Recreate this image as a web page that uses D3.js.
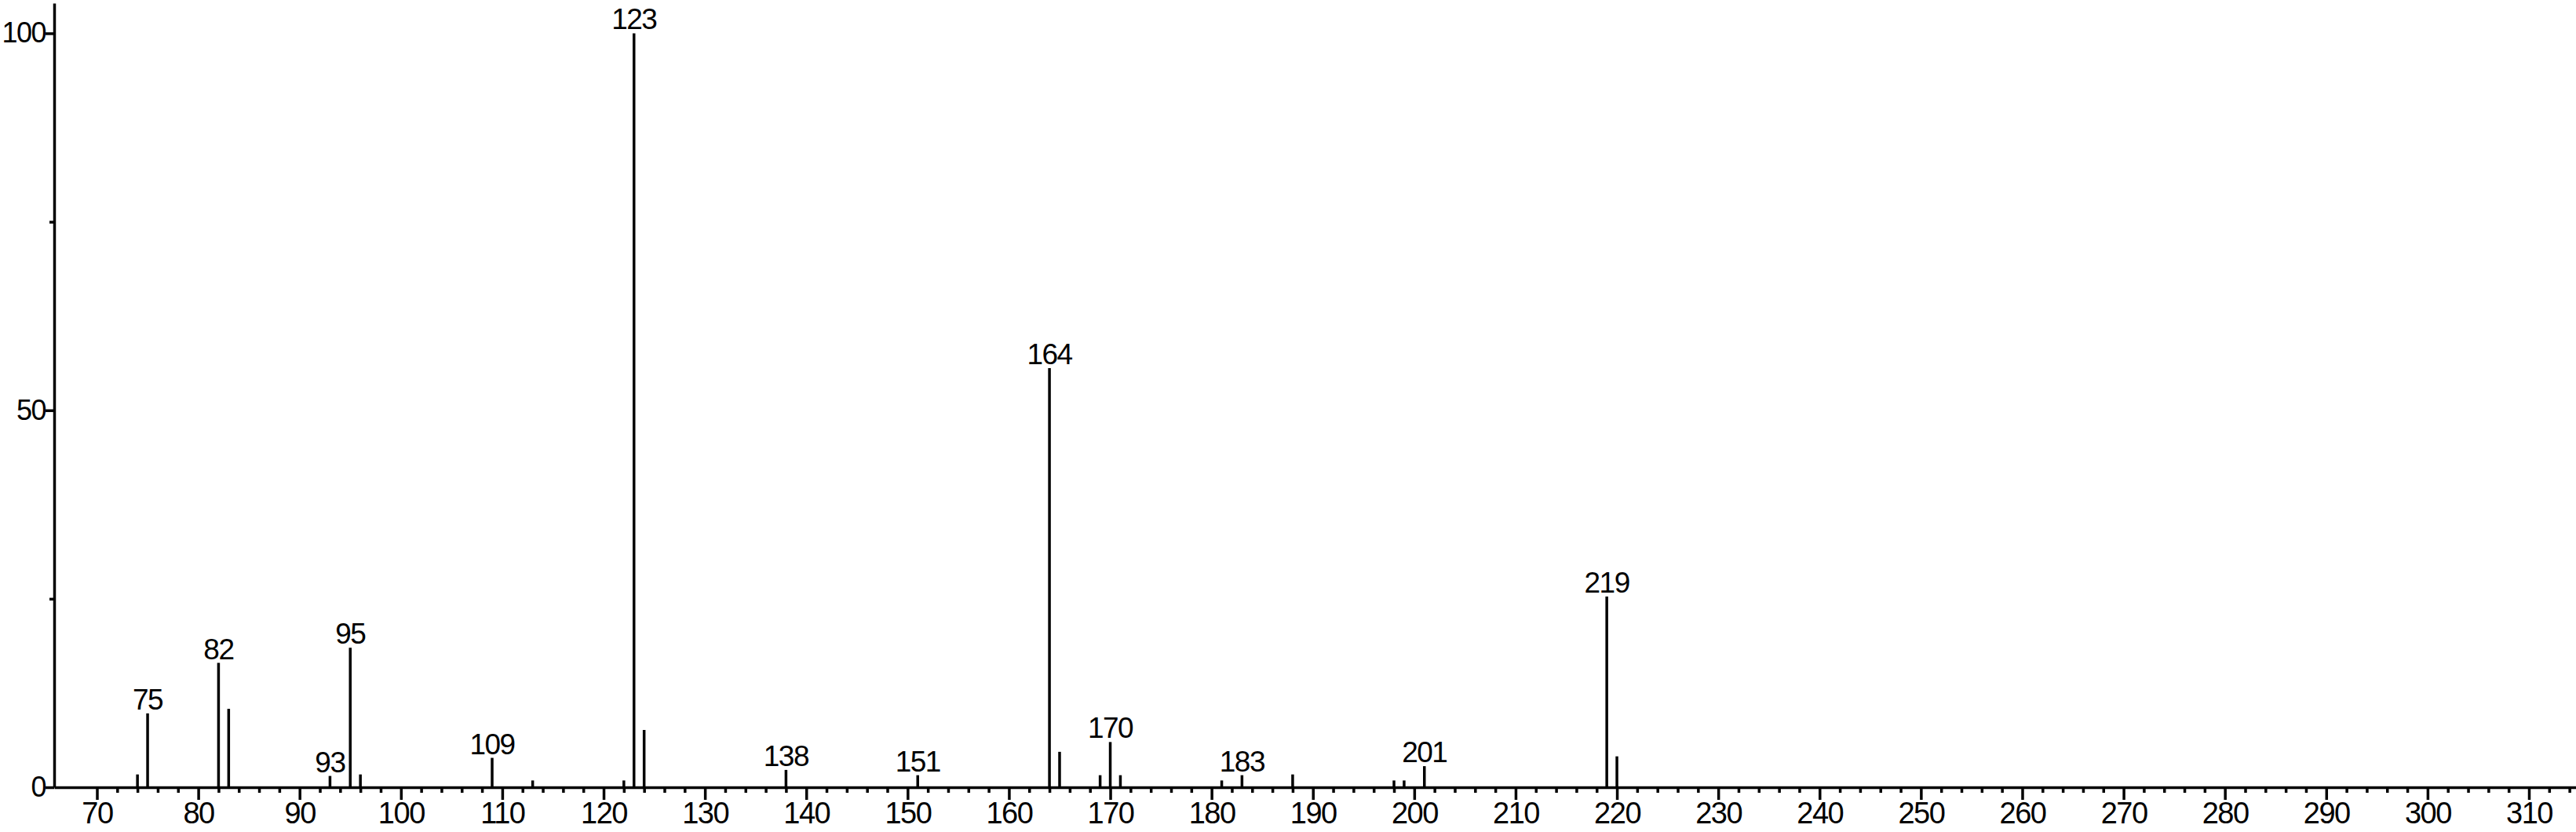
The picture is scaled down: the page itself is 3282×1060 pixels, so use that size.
<!DOCTYPE html>
<html>
<head>
<meta charset="utf-8">
<script src="https://cdn.jsdelivr.net/npm/d3@7"></script>
<style>
	html, body { margin: 0; padding: 0; background: #fff; }
	svg { display: block; }
	text { font-family: "Liberation Sans", Arial, sans-serif; fill: #000; letter-spacing: -1.5px; }
</style>
</head>
<body>
<div id="chart"></div>
<script>
// m/z values and relative intensities
const mz = [74, 75, 82, 83, 93, 95, 96, 109, 113, 122, 123, 124, 138, 151, 164, 165, 169, 170, 171, 181, 183, 188, 198, 199, 201, 219, 220];
const intensity = [1.7, 9.8, 16.5, 10.4, 1.5, 18.5, 1.7, 3.9, 0.9, 0.9, 100, 7.6, 2.3, 1.6, 55.6, 4.7, 1.6, 6.0, 1.6, 0.9, 1.6, 1.7, 0.9, 0.9, 2.8, 25.3, 4.1];
// peaks that carry an m/z label
const labelled = [75, 82, 93, 95, 109, 123, 138, 151, 164, 170, 183, 201, 219];

const xMajor = d3.range(70, 311, 10);
const xMinor = d3.range(70, 315, 2).filter(function(v) { return v % 10 !== 0; });
const yMajor = [0, 50, 100];
const yMinor = [25, 75];

const width = 3282;
const height = 1060;
const axisLeftX = 69;

let x = d3.scaleLinear().domain([70, 310]).range([123.5, 3222]);
let y = d3.scaleLinear().domain([0, 104]).range([1003, 4]);

let svg = d3.select("#chart").append("svg")
	.attr("width", width)
	.attr("height", height);

let peaks = mz.map(function(d, i) { return { mz: d, value: intensity[i] }; });

// Sticks
svg.append("g")
	.selectAll("line")
	.data(peaks)
	.enter()
	.append("line")
	.attr("x1", function(d) { return x(d.mz); })
	.attr("x2", function(d) { return x(d.mz); })
	.attr("y1", y(0))
	.attr("y2", function(d) { return y(d.value); })
	.attr("stroke", "#000")
	.attr("stroke-width", 3.5);

// Peak labels
svg.append("g")
	.selectAll("text")
	.data(peaks.filter(function(d) { return labelled.indexOf(d.mz) >= 0; }))
	.enter()
	.append("text")
	.attr("x", function(d) { return x(d.mz); })
	.attr("y", function(d) { return y(d.value) - 5; })
	.attr("text-anchor", "middle")
	.style("font-size", "37px")
	.text(function(d) { return d.mz; });

// X axis: major + minor ticks, domain runs from the y axis to the right edge
let xFull = x.copy().domain([x.invert(axisLeftX), x.invert(width)]).range([axisLeftX, width]);

let xAxis = svg.append("g")
	.attr("transform", "translate(0," + y(0) + ")")
	.call(d3.axisBottom(xFull).tickValues(xMajor).tickSize(16).tickPadding(3).tickSizeOuter(0));
xAxis.selectAll("text").style("font-size", "38px");

svg.append("g")
	.attr("transform", "translate(0," + y(0) + ")")
	.call(d3.axisBottom(xFull).tickValues(xMinor).tickSize(7).tickFormat("").tickSizeOuter(0))
	.select(".domain").remove();

// Y axis: major + minor ticks
let yAxis = svg.append("g")
	.attr("transform", "translate(" + axisLeftX + ",0)")
	.call(d3.axisLeft(y).tickValues(yMajor).tickSize(11).tickPadding(0).tickSizeOuter(0));
yAxis.selectAll("text").style("font-size", "36px");

svg.append("g")
	.attr("transform", "translate(" + axisLeftX + ",0)")
	.call(d3.axisLeft(y).tickValues(yMinor).tickSize(6).tickFormat("").tickSizeOuter(0))
	.select(".domain").remove();

svg.selectAll(".domain").attr("stroke-width", 3.5);
svg.selectAll(".tick line").attr("stroke-width", 3.5);
</script>
</body>
</html>
